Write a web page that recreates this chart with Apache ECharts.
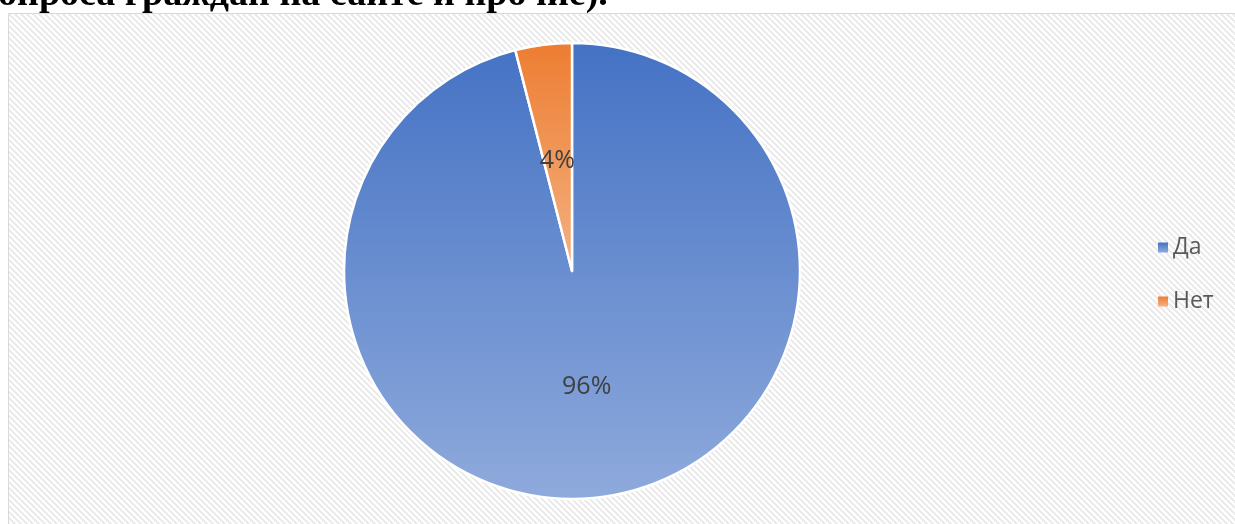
<!DOCTYPE html>
<html>
<head>
<meta charset="utf-8">
<script src="https://cdn.jsdelivr.net/npm/echarts@6/dist/echarts.min.js"></script>
<style>
html,body{margin:0;padding:0;background:#fff;}
#chart{width:1235px;height:524px;}
</style>
</head>
<body>
<div id="chart"></div>
<script>
// Data
const categories = ['Да', 'Нет'];
const values = [96, 4];
const labelTexts = ['96%', '4%'];
const titleText = 'опроса граждан на сайте и прочие).';

// hatch pattern tile
const tile = document.createElement('canvas');
tile.width = 6; tile.height = 6;
const tctx = tile.getContext('2d');
tctx.fillStyle = '#ffffff';
tctx.fillRect(0, 0, 6, 6);
tctx.fillStyle = '#ebebeb';
for (let y = 0; y < 6; y++) {
  for (let x = 0; x < 6; x++) {
    if (((x - y) % 6 + 6) % 6 < 3) tctx.fillRect(x, y, 1, 1);
  }
}

const gradients = [
  { type: 'linear', x: 0, y: 0, x2: 0, y2: 1,
    colorStops: [{ offset: 0, color: '#4472C4' }, { offset: 1, color: '#8FAADC' }] },
  { type: 'linear', x: 0, y: 0, x2: 0, y2: 1,
    colorStops: [{ offset: 0, color: '#ED7D31' }, { offset: 1, color: '#F4B183' }] }
];

const chart = echarts.init(document.getElementById('chart'), null, { renderer: 'canvas' });
chart.setOption({
  animation: false,
  backgroundColor: '#ffffff',
  graphic: [
    {
      type: 'rect', z: -10, silent: true,
      shape: { x: 8.5, y: 13.5, width: 1300, height: 600 },
      style: { fill: { image: tile, repeat: 'repeat' }, stroke: '#d9d9d9', lineWidth: 1 }
    },
    {
      type: 'text', z: 10, silent: true,
      x: -2, y: 14,
      style: {
        text: titleText,
        font: 'bold 38px "Liberation Serif", "Times New Roman", serif',
        fill: '#000000',
        verticalAlign: 'bottom',
        align: 'left'
      }
    }
  ],
  legend: {
    orient: 'vertical',
    left: 1153,
    top: 231,
    itemWidth: 10,
    itemHeight: 10,
    itemGap: 31,
    icon: 'rect',
    itemStyle: { borderWidth: 0 },
    textStyle: { fontFamily: '"Open Sans", sans-serif', fontSize: 23, color: '#595959', padding: [0, 0, 0, 0] },
    data: categories
  },
  series: [{
    type: 'pie',
    center: [572, 271],
    radius: 228,
    startAngle: 90,
    clockwise: true,
    silent: true,
    label: {
      show: true,
      position: 'inside',
      fontFamily: '"Open Sans", sans-serif',
      fontSize: 25,
      color: '#404040',
      formatter: function (p) { return labelTexts[p.dataIndex]; }
    },
    labelLine: { show: false },
    itemStyle: { borderColor: '#ffffff', borderWidth: 2.5 },
    data: categories.map(function (c, i) {
      return {
        name: c, value: values[i],
        itemStyle: { color: gradients[i] },
        label: i === 1 ? { offset: [0, 6] } : {}
      };
    })
  }]
});
</script>
</body>
</html>
